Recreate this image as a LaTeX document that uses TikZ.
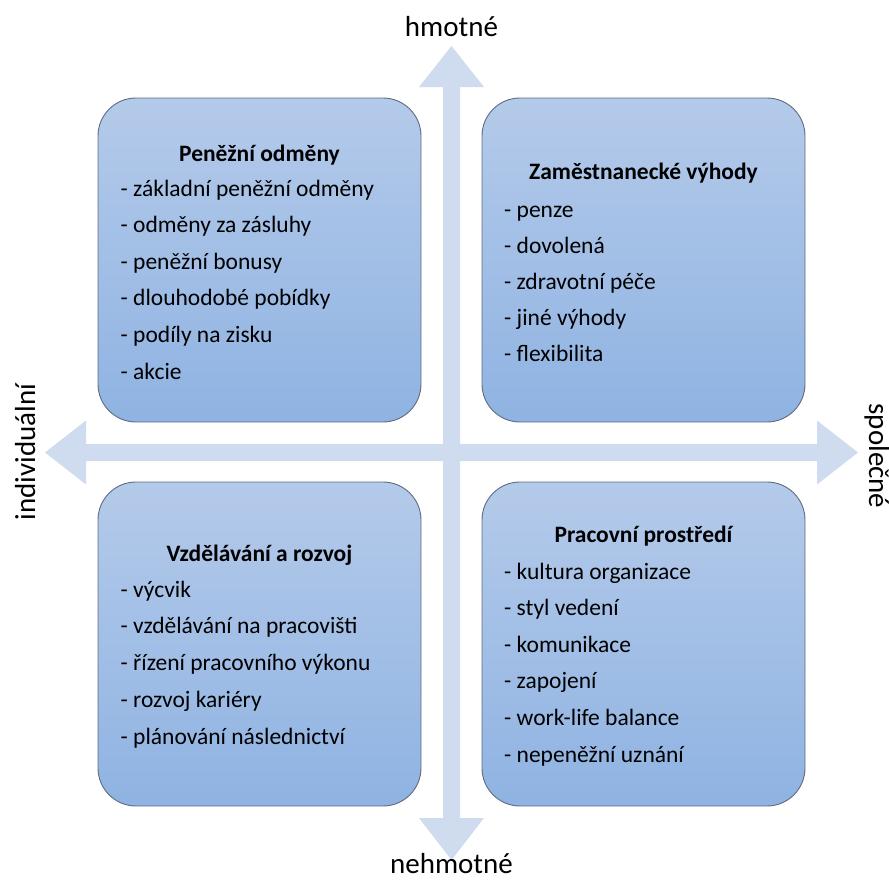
\documentclass[tikz,border=0pt]{standalone}
\usepackage{fontspec}
\setmainfont{Carlito}
\definecolor{axisblue}{RGB}{207,219,238}
\definecolor{boxtop}{RGB}{180,202,234}
\definecolor{boxbottom}{RGB}{143,179,226}
\definecolor{boxline}{RGB}{95,108,128}
\tikzset{
  quadrant/.style={draw=boxline, line width=0.9pt, rounded corners=38pt,
    top color=boxtop, bottom color=boxbottom,
    minimum width=323pt, minimum height=324pt, inner sep=0pt},
  heading/.style={anchor=base, inner sep=0pt, font=\fontsize{23.5}{28}\selectfont\bfseries},
  item/.style={anchor=base west, inner sep=0pt, font=\fontsize{23.5}{28}\selectfont},
  axislabel/.style={anchor=base, inner sep=0pt, font=\fontsize{29}{34}\selectfont},
}
\begin{document}
\begin{tikzpicture}[x=1pt,y=-1pt]
        \useasboundingbox (0,0) rectangle (889,881);

        % axes
        \fill [axisblue]
          (443,87) -- (419,87) -- (451.5,46) -- (484,87) -- (460,87)
          -- (460,818) -- (484,818) -- (451.5,860) -- (419,818) -- (443,818)
          -- cycle
        ;
        \fill [axisblue]
          (86,444) -- (86,420.5) -- (45,452.5) -- (86,484.5) -- (86,461)
          -- (817,461) -- (817,484.5) -- (858,452.5) -- (817,420.5) -- (817,444)
          -- cycle
        ;

        \node [axislabel] (hmotne) at (451.5,36) {hmotné};
        \node [axislabel] (nehmotne) at (451.5,873.5) {nehmotné};
        \node [axislabel,rotate=90] (individualni) at (35,452) {individuální};
        \node [axislabel,rotate=-90] (spolecne) at (869,456) {společné};

        % quadrants
        \node [quadrant] (penezni) at (259.5,260) {};
        \node [quadrant] (vyhody) at (643.5,260) {};
        \node [quadrant] (rozvoj) at (259.5,644) {};
        \node [quadrant] (prostredi) at (643.5,644) {};

        \node [heading] (penezniT) at (259.5,161) {Peněžní odměny};
        \foreach \txt [count=\i from 0] in {základní peněžní odměny, odměny za zásluhy,
            peněžní bonusy, dlouhodobé pobídky, podíly na zisku, akcie}
          \node [item] (penezni\i) at (120.5,196+36.6*\i) {- \txt};

        \node [heading] (vyhodyT) at (643.5,179) {Zaměstnanecké výhody};
        \foreach \txt [count=\i from 0] in {penze, dovolená, zdravotní péče,
            jiné výhody, flexibilita}
          \node [item] (vyhody\i) at (504,217+36*\i) {- \txt};

        \node [heading] (rozvojT) at (259.5,561) {Vzdělávání a rozvoj};
        \foreach \txt [count=\i from 0] in {výcvik, vzdělávání na pracovišti,
            řízení pracovního výkonu, rozvoj kariéry, plánování následnictví}
          \node [item] (rozvoj\i) at (120.5,597+36.75*\i) {- \txt};

        \node [heading] (prostrediT) at (643.5,542) {Pracovní prostředí};
        \foreach \txt [count=\i from 0] in {kultura organizace, styl vedení,
            komunikace, zapojení, work-life balance, nepeněžní uznání}
          \node [item] (prostredi\i) at (504,579+36.6*\i) {- \txt};
      \end{tikzpicture}
\end{document}
